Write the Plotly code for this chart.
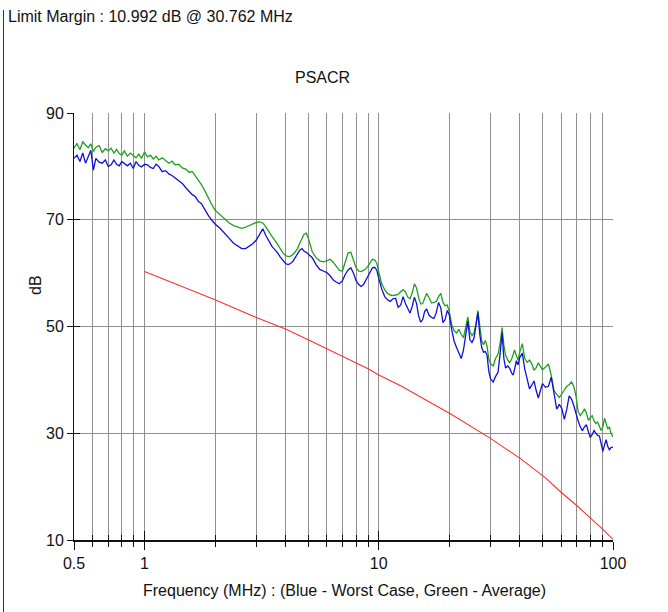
import plotly.graph_objects as go

# ---------------- data ----------------
freq_mhz = [
    # 0.5 - 1.6 MHz (noisy plateau)
    0.50, 0.515, 0.53, 0.545, 0.56, 0.575, 0.59, 0.605, 0.62, 0.64, 0.66, 0.68, 0.70, 0.72,
    0.74, 0.76, 0.78, 0.80, 0.82, 0.845, 0.87, 0.895, 0.92, 0.945, 0.97, 1.0, 1.03, 1.06,
    1.09, 1.12, 1.15, 1.19, 1.23, 1.27, 1.31, 1.35, 1.40, 1.45, 1.50, 1.55, 1.60,
    # 1.65 - 2.0
    1.65, 1.70, 1.75, 1.80, 1.86, 1.93, 2.0,
    # 2.1 - 5.0
    2.1, 2.2, 2.3, 2.4, 2.5, 2.6, 2.7, 2.8, 2.9, 3.0, 3.1, 3.2, 3.3, 3.4, 3.5, 3.6, 3.7, 3.8,
    3.9, 4.0, 4.1, 4.2, 4.3, 4.4, 4.5, 4.6, 4.7, 4.8, 4.9, 5.0,
    # 5.2 - 10
    5.2, 5.4, 5.6, 5.8, 6.0, 6.2, 6.4, 6.6, 6.8, 7.0, 7.2, 7.4, 7.6, 7.8, 8.0, 8.2, 8.4, 8.6,
    8.8, 9.0, 9.2, 9.4, 9.6, 9.8, 10.0,
    # 10.3 - 20
    10.3, 10.6, 10.9, 11.2, 11.5, 11.8, 12.1, 12.4, 12.7, 13.0, 13.3, 13.6, 13.9, 14.2, 14.5,
    14.8, 15.1, 15.4, 15.7, 16.0, 16.4, 16.8, 17.2, 17.6, 18.0, 18.4, 18.8, 19.2, 19.6, 20.0,
    # 20.5 - 40
    20.5, 21.0, 21.5, 22.0, 22.5, 23.0, 23.5, 24.0, 24.5, 25.0, 25.5, 26.0, 26.5, 27.0, 27.5,
    28.0, 28.5, 29.0, 29.5, 30.0, 30.8, 31.5, 32.3, 33.0, 33.6, 34.2, 34.8, 35.5, 36.2, 37.0,
    37.5, 38.0, 38.7, 39.3, 40.0,
    # 41 - 100
    41, 42, 43, 44, 45, 46, 47, 48, 49, 50, 51.5, 53, 54.5, 56, 57.5, 59, 60.5, 62, 63.5, 65,
    66.5, 68, 69.5, 71, 72.5, 74, 75.5, 77, 78.5, 80, 81.5, 83, 84.5, 86, 87.5, 89, 90.5, 92,
    93.5, 95, 96.5, 98, 100,
]

green_average_db = [
    83.4, 84.3, 83.1, 84.6, 84.0, 83.5, 84.2, 82.8, 83.6, 83.9, 82.6, 83.3, 82.9, 83.4,
    82.5, 83.2, 82.4, 82.1, 82.9, 81.9, 82.5, 82.1, 81.6, 82.3, 81.5, 82.7, 81.8, 82.1,
    81.4, 81.9, 81.2, 81.6, 81.1, 80.6, 81.0, 80.3, 80.4, 79.7, 79.5, 78.9, 79.0,
    78.2, 77.2, 76.6, 75.6, 74.3, 73.0, 71.8,
    71.0, 70.1, 69.4, 68.9, 68.6, 68.4, 68.6, 68.9, 69.3, 69.5, 69.6, 69.4, 68.6, 67.6, 66.9,
    66.2, 65.3, 64.4, 63.8, 63.3, 63.1, 63.2, 63.5, 64.0, 64.6, 65.6, 66.6, 67.3, 67.5, 66.6,
    64.0, 62.9, 62.3, 62.1, 62.3, 62.6, 62.0, 61.2, 60.5, 60.4, 62.3, 63.8, 63.9, 62.2, 61.0,
    60.4, 60.3, 60.5, 60.8, 61.3, 62.0, 62.6, 62.5, 61.9, 60.2,
    58.0, 56.9, 56.2, 55.9, 55.8, 55.9, 56.0, 56.5, 56.9, 56.5, 55.5, 55.2, 56.3, 58.0, 57.2,
    55.4, 54.2, 54.3, 55.5, 56.2, 55.4, 54.4, 54.5, 54.7, 55.6, 56.2, 54.5, 53.9, 54.0, 52.8,
    50.3, 49.2, 48.8, 49.5, 48.5, 47.9, 49.8, 51.8, 49.0, 48.3, 48.8, 50.5, 53.0, 49.5, 47.3,
    46.6, 47.4, 46.3, 43.9, 43.0, 42.6, 44.0, 44.8, 47.0, 49.8, 46.5, 44.6, 43.8, 43.2, 44.0,
    45.0, 45.6, 44.5, 43.7, 45.2,
    46.8, 44.0, 43.3, 43.7, 43.0, 41.8, 42.3, 43.2, 42.6, 41.9, 42.4, 43.0, 40.8, 38.0, 37.3,
    36.7, 37.4, 38.2, 38.8, 39.1, 39.6, 38.8, 37.0, 34.0, 33.3, 33.8, 34.6, 33.8, 32.4, 32.9,
    33.3, 32.3, 31.8, 32.1, 31.3, 30.5, 31.2, 32.8, 31.8, 30.8, 31.2, 30.0, 29.3,
]

blue_worst_db = [
    81.5, 82.1, 80.9, 82.5, 80.6, 81.8, 83.0, 79.3, 81.5, 80.8, 80.6, 81.2, 80.0, 80.3,
    81.2, 80.4, 80.1, 80.9, 80.6, 80.1, 80.6, 79.6, 80.9, 80.2, 79.9, 80.4, 80.3, 79.8,
    79.6, 80.4, 80.0, 79.0, 79.2, 78.6, 78.3, 77.9, 77.3, 76.8, 76.0, 75.3, 74.7,
    74.3, 73.4, 73.0, 72.0, 71.0, 70.0, 69.2,
    68.4, 67.5, 66.5, 65.6, 65.0, 64.6, 64.6, 65.0, 65.5, 66.2, 67.2, 68.3, 67.0, 66.0, 65.0,
    64.4, 63.8, 63.0, 62.3, 61.8, 61.6, 61.8, 62.2, 63.0, 63.8, 64.3, 64.6, 64.1, 63.9, 63.6,
    62.9, 61.6, 60.7, 60.4, 60.1, 59.5, 58.7, 58.3, 58.0, 58.6, 59.8, 60.6, 61.0, 60.0, 58.6,
    57.9, 57.5, 57.8, 58.7, 59.5, 60.4, 61.0, 61.1, 60.6, 59.0,
    57.0, 55.6, 55.0, 54.7, 55.2, 55.3, 53.6, 54.0, 55.6, 54.3, 53.2, 52.5, 53.8, 55.5, 54.3,
    52.0, 50.8, 51.3, 52.8, 53.3, 52.1, 51.7, 51.5, 52.6, 54.5, 53.5, 50.7, 51.3, 53.0, 52.2,
    49.3, 47.2, 46.0, 44.8, 44.0, 45.6, 48.8, 51.0, 47.5, 47.0, 47.8, 50.0, 52.6, 48.5, 46.1,
    45.2, 45.3, 44.6, 41.6, 40.2, 39.6, 40.6, 41.4, 45.0, 48.9, 44.0, 42.2, 42.6, 42.2, 41.2,
    40.9, 42.0, 43.6, 42.8, 44.2,
    45.0, 42.0, 40.2, 38.3, 39.0, 39.8, 38.0, 36.6, 38.0, 39.3, 38.6, 38.8, 40.5, 37.0, 34.5,
    35.4, 34.6, 32.6, 34.5, 37.0, 36.4, 35.2, 33.6, 32.3, 31.2, 30.5, 31.2, 31.6, 30.3, 29.2,
    29.8, 30.5, 30.0, 29.6, 29.5, 27.8, 26.6, 27.8, 28.8, 27.5, 26.9, 27.3, 27.4,
]

limit_freq_mhz = [1, 2, 3, 4, 5, 6, 7, 8, 9, 10, 12.4, 16.6, 20.3, 30.1, 40.4, 51.5, 60, 70, 80, 90, 100]
limit_db = [60.3, 55.0, 51.7, 49.55, 47.5, 45.8, 44.4, 43.2, 42.1, 40.9, 38.9, 35.75, 33.6,
            29.0, 25.2, 21.65, 18.95, 16.46, 14.17, 12.08, 10.1]

x_major_ticks = [0.5, 1, 10, 100]
x_major_labels = ["0.5", "1", "10", "100"]
x_minor_ticks = [0.6, 0.7, 0.8, 0.9, 2, 3, 4, 5, 6, 7, 8, 9, 20, 30, 40, 50, 60, 70, 80, 90]
y_ticks = [10, 30, 50, 70, 90]

title_text = "PSACR"
margin_text = "Limit Margin : 10.992 dB @ 30.762 MHz"
x_title = "Frequency (MHz) : (Blue - Worst Case, Green - Average)"
y_title = "dB"

assert len(freq_mhz) == len(green_average_db) == len(blue_worst_db)
assert len(limit_freq_mhz) == len(limit_db)

# ---------------- figure ----------------
FONT = "Liberation Sans, Arial, sans-serif"
GRID = "#8f8f8f"
W, H = 668, 612
L, R, T, B = 74, 55, 113, 72
pw, ph = W - L - R, H - T - B


def px(xp):
    return (xp - L) / pw


def py(yp):
    return (H - B - yp) / ph


fig = go.Figure()
fig.add_trace(go.Scatter(x=limit_freq_mhz, y=limit_db, mode="lines",
                         line=dict(color="#ff3030", width=1.1), showlegend=False, hoverinfo="skip"))
fig.add_trace(go.Scatter(x=freq_mhz, y=green_average_db, mode="lines",
                         line=dict(color="#1ea01e", width=1.3), showlegend=False, name="Average"))
fig.add_trace(go.Scatter(x=freq_mhz, y=blue_worst_db, mode="lines",
                         line=dict(color="#1010d8", width=1.3), showlegend=False, name="Worst Case"))
# carrier for the overlay axes that draw the inner half of the tick marks
fig.add_trace(go.Scatter(x=[1], y=[None], xaxis="x2", yaxis="y2", mode="lines",
                         showlegend=False, hoverinfo="skip"))

xrange = [-0.30103, 2.0]
common_font = dict(family=FONT, size=16, color="#111111")

fig.update_layout(
    width=W, height=H,
    margin=dict(l=L, r=R, t=T, b=B, pad=0),
    paper_bgcolor="white", plot_bgcolor="white",
    font=common_font,
    showlegend=False,
    xaxis=dict(
        type="log", range=xrange,
        tickmode="array", tickvals=x_major_ticks, ticktext=x_major_labels,
        ticks="outside", ticklen=8, tickwidth=1, tickcolor="#111111",
        showgrid=True, gridcolor=GRID, gridwidth=1,
        minor=dict(tickmode="array", tickvals=x_minor_ticks, ticks="outside", ticklen=5,
                   tickwidth=1, tickcolor="#111111", showgrid=True, gridcolor=GRID, gridwidth=1),
        showline=True, linecolor="#111111", linewidth=2,
        zeroline=False, tickfont=common_font, anchor="y",
    ),
    yaxis=dict(
        range=[10, 90], tickmode="array", tickvals=y_ticks,
        ticks="outside", ticklen=6, tickwidth=1, tickcolor="#111111",
        showgrid=True, gridcolor=GRID, gridwidth=1,
        showline=True, linecolor="#111111", linewidth=1,
        zeroline=False, tickfont=common_font, anchor="x",
    ),
    xaxis2=dict(
        type="log", range=xrange, overlaying="x", anchor="y2", side="bottom",
        tickmode="array", tickvals=x_major_ticks, ticks="inside", ticklen=9, tickwidth=1,
        tickcolor="#111111", showticklabels=False, showgrid=False, showline=False, zeroline=False,
        minor=dict(tickmode="array", tickvals=x_minor_ticks, ticks="inside", ticklen=5,
                   tickwidth=1, tickcolor="#111111", showgrid=False),
    ),
    yaxis2=dict(
        range=[10, 90], overlaying="y", anchor="x2", side="left",
        tickmode="array", tickvals=y_ticks, ticks="inside", ticklen=6, tickwidth=1,
        tickcolor="#111111", showticklabels=False, showgrid=False, showline=False, zeroline=False,
    ),
    annotations=[
        dict(text=margin_text, xref="paper", yref="paper", x=px(6), y=py(17),
             xanchor="left", yanchor="middle", showarrow=False, font=common_font),
        dict(text=title_text, xref="paper", yref="paper", x=px(322), y=py(78),
             xanchor="center", yanchor="middle", showarrow=False, font=common_font),
        dict(text=x_title, xref="paper", yref="paper", x=px(344), y=py(590),
             xanchor="center", yanchor="middle", showarrow=False, font=common_font),
        dict(text=y_title, xref="paper", yref="paper", x=px(35), y=py(285),
             xanchor="center", yanchor="middle", textangle=-90, showarrow=False, font=common_font),
    ],
    shapes=[
        dict(type="line", xref="paper", yref="paper", x0=px(3.5), x1=px(3.5), y0=py(10), y1=py(612),
             line=dict(color="#333333", width=1)),
    ],
)

fig.write_html("out.html", config={"displayModeBar": False},
               post_script="document.body.style.margin='0';document.body.style.overflow='hidden';")
